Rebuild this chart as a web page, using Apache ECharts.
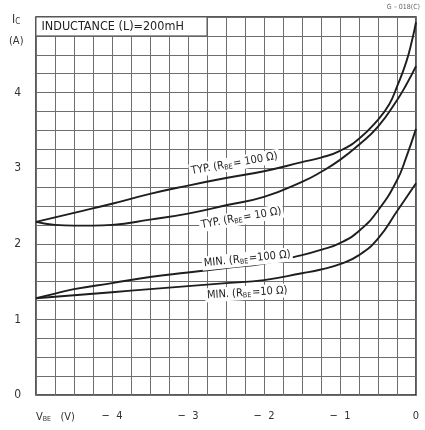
<!DOCTYPE html>
<html>
<head>
<meta charset="utf-8">
<script src="https://cdn.jsdelivr.net/npm/echarts@6/dist/echarts.min.js"></script>
<style>
html,body{margin:0;padding:0;background:#fff;}
#c{width:425px;height:430px;}
</style>
</head>
<body>
<div id="c"></div>
<script>
// V_BE (V) sample positions and I_C (A) values
const vbeTyp100 = [-5, -4.5, -4, -3.5, -3, -2.5, -2, -1.5, -1.25, -1, -0.75, -0.5, -0.35, -0.25, -0.13, -0.05, 0];
const icTyp100  = [2.29, 2.41, 2.53, 2.66, 2.77, 2.87, 2.96, 3.08, 3.14, 3.23, 3.39, 3.64, 3.85, 4.08, 4.40, 4.70, 4.93];

const vbeTyp10 = [-5, -4.75, -4.5, -4.25, -4, -3.5, -3, -2.5, -2, -1.5, -1.25, -1, -0.75, -0.5, -0.25, -0.13, 0];
const icTyp10  = [2.29, 2.25, 2.24, 2.24, 2.25, 2.32, 2.40, 2.51, 2.62, 2.82, 2.95, 3.11, 3.31, 3.55, 3.90, 4.10, 4.35];

const vbeMin100 = [-5, -4.75, -4.5, -4, -3.5, -3, -2.5, -2, -1.5, -1.25, -1, -0.75, -0.5, -0.25, -0.13, 0];
const icMin100  = [1.28, 1.34, 1.40, 1.48, 1.56, 1.62, 1.68, 1.74, 1.85, 1.92, 2.01, 2.17, 2.44, 2.84, 3.14, 3.52];

const vbeMin10 = [-5, -4.5, -4, -3.5, -3, -2.5, -2, -1.5, -1.25, -1, -0.75, -0.5, -0.25, 0];
const icMin10  = [1.28, 1.32, 1.36, 1.40, 1.44, 1.48, 1.52, 1.61, 1.66, 1.73, 1.85, 2.07, 2.43, 2.80];

const curveLabels = [
  ['TYP. (R', '= 100 Ω)'],
  ['TYP. (R', '= 10 Ω)'],
  ['MIN. (R', '=100 Ω)'],
  ['MIN. (R', '=10 Ω)']
];
const headerText = 'INDUCTANCE (L)=200mH';

const FONT = '"Liberation Sans Narrow", "DejaVu Sans Condensed", "Liberation Sans", sans-serif';
const INK = '#1e1e1e';

function pairs(xs, ys) { return xs.map((x, i) => [x, ys[i]]); }

function labelPoint(idx, at, rot) {
  const t = curveLabels[idx];
  return {
    symbol: 'rect', symbolSize: 1,
    itemStyle: { color: 'rgba(0,0,0,0)' },
    data: [{ coord: at }],
    label: {
      show: true, position: 'inside', rotate: rot,
      formatter: t[0] + '{s|BE}' + '{m|' + t[1] + '}',
      color: '#222', fontFamily: FONT, fontSize: 11,
      backgroundColor: '#fff', padding: [1, 2, 1, 2],
      rich: {
        s: { fontSize: 7, fontFamily: FONT, color: '#222', verticalAlign: 'bottom', padding: [5, 1, 0, 0] },
        m: { fontSize: 11, fontFamily: FONT, color: '#222' }
      }
    },
    animation: false
  };
}

function curve(xs, ys, mp) {
  return {
    type: 'line', data: pairs(xs, ys), smooth: 0.5,
    showSymbol: false, symbol: 'none',
    lineStyle: { color: INK, width: 1.9 },
    markPoint: mp, z: 3
  };
}

const chart = echarts.init(document.getElementById('c'), null, { renderer: 'canvas' });
chart.setOption({
  animation: false,
  backgroundColor: '#fff',
  grid: { left: 36, right: 9, top: 17, bottom: 35, show: true, borderColor: '#222', borderWidth: 1.5, backgroundColor: 'transparent' },
  xAxis: {
    type: 'value', min: -5, max: 0, interval: 1,
    axisLine: { show: false }, axisTick: { show: false },
    splitLine: { show: true, lineStyle: { color: '#6e6e6e', width: 1 } },
    minorTick: { show: false, splitNumber: 4 },
    minorSplitLine: { show: true, lineStyle: { color: '#6e6e6e', width: 1 } },
    axisLabel: {
      margin: 16, color: '#333', fontFamily: FONT, fontSize: 11,
      alignMinLabel: 'left',
      formatter: v => v === -5 ? 'V{s|BE}   (V)' : (v === 0 ? '0' : '−  ' + Math.abs(v)),
      rich: { s: { fontSize: 7, fontFamily: FONT, color: '#333', verticalAlign: 'bottom', padding: [5, 0, 0, 0] } }
    }
  },
  yAxis: {
    type: 'value', min: 0, max: 5, interval: 1,
    axisLine: { show: false }, axisTick: { show: false },
    splitLine: { show: true, lineStyle: { color: '#6e6e6e', width: 1 } },
    minorTick: { show: false, splitNumber: 4 },
    minorSplitLine: { show: true, lineStyle: { color: '#6e6e6e', width: 1 } },
    axisLabel: {
      margin: 15, color: '#333', fontFamily: FONT, fontSize: 12,
      formatter: v => v === 5 ? '' : String(v)
    }
  },
  graphic: [
    { type: 'text', left: 12, top: 14, style: { text: 'I{c|C}', fill: '#333', font: '12px ' + FONT,
      rich: { c: { fontSize: 8, fontFamily: FONT, fill: '#333', padding: [4, 0, 0, 0] } } } },
    { type: 'text', left: 9, top: 36, style: { text: '(A)', fill: '#333', font: '11px ' + FONT } },
    { type: 'text', right: 5, top: 4, style: { text: 'G－018(C)', fill: '#666', font: '7px ' + FONT } }
  ],
  series: [
    Object.assign(curve(vbeTyp100, icTyp100, labelPoint(0, [-2.39, 3.06], 10)), {
      markArea: {
        silent: true,
        itemStyle: { color: '#fff', borderColor: '#555', borderWidth: 1 },
        label: { show: true, position: 'insideLeft', distance: 6, color: '#222', fontFamily: FONT, fontSize: 12.5, formatter: headerText },
        data: [[{ coord: [-5, 4.75] }, { coord: [-2.75, 5] }]]
      }
    }),
    curve(vbeTyp10, icTyp10, labelPoint(1, [-2.30, 2.34], 10)),
    curve(vbeMin100, icMin100, labelPoint(2, [-2.22, 1.80], 6)),
    curve(vbeMin10, icMin10, labelPoint(3, [-2.22, 1.35], 3.5))
  ]
});
</script>
</body>
</html>
